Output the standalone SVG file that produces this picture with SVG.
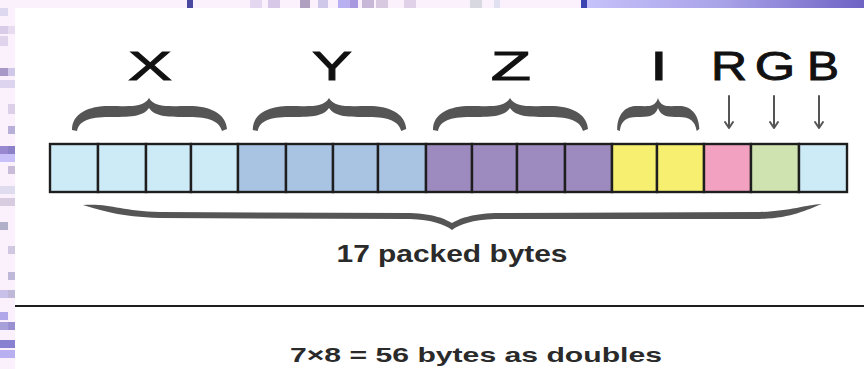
<svg xmlns="http://www.w3.org/2000/svg" width="864" height="369" viewBox="0 0 864 369">
<style>
.lbl{font-family:"Liberation Sans",Arial,sans-serif;font-size:40px;fill:#111;stroke:#111;stroke-width:0.9;text-anchor:middle}
.cap{font-family:"Liberation Sans",Arial,sans-serif;font-weight:bold;fill:#2a2a2a;text-anchor:middle}
.cell{stroke:#1e1e1e;stroke-width:2.4}
.brace{fill:#555;}
.arr{fill:none;stroke:#555;stroke-width:2;stroke-linecap:round;stroke-linejoin:round}
</style>
<defs>
<linearGradient id="topg" x1="0" y1="0" x2="1" y2="0">
<stop offset="0" stop-color="#c6c2fa"/>
<stop offset="0.5" stop-color="#a8a2e8"/>
<stop offset="1" stop-color="#6e62c4"/>
</linearGradient>
<path id="brace" d="M-77,130 C-77,113 -60,106 -40,106 C-20,106 -6,108 0,98 C6,108 20,106 40,106 C60,106 77,113 78,129 L73,131 C70,121 60,117 40,117 C20,117 6,117 0,108 C-6,117 -20,117 -40,117 C-60,117 -70,121 -72,131 Z"/>
</defs>
<g id="background">
<rect x="0" y="0" width="864" height="369" fill="#fbf1fc"/>
<rect x="584" y="0" width="280" height="8" fill="url(#topg)"/>
<rect x="581" y="0" width="6" height="8" fill="#3a44b0"/>
<rect x="187" y="0" width="6" height="8" fill="#4a48a0"/>
<rect x="250" y="0" width="12" height="8" fill="#e4d8f0"/>
<rect x="268" y="0" width="12" height="8" fill="#d8c8e8"/>
<rect x="300" y="0" width="10" height="8" fill="#b0a0c0"/>
<rect x="318" y="0" width="10" height="8" fill="#d0c8e8"/>
<rect x="338" y="0" width="12" height="8" fill="#b8b0f0"/>
<rect x="350" y="0" width="8" height="8" fill="#a898e0"/>
<rect x="362" y="0" width="12" height="8" fill="#c8b8d8"/>
<rect x="376" y="0" width="12" height="8" fill="#d8c8e0"/>
<rect x="404" y="0" width="12" height="8" fill="#e0d0e8"/>
<rect x="470" y="0" width="12" height="8" fill="#d8d8e0"/>
<rect x="494" y="0" width="6" height="8" fill="#e0e0f0"/>
<rect x="0" y="8" width="8" height="8" fill="#ddd8f0"/>
<rect x="0" y="26" width="8" height="8" fill="#d8cce8"/>
<rect x="8" y="26" width="7" height="8" fill="#e8dcf0"/>
<rect x="0" y="36" width="8" height="10" fill="#e0d4ec"/>
<rect x="0" y="68" width="8" height="8" fill="#a898c8"/>
<rect x="8" y="68" width="7" height="8" fill="#d0c8e8"/>
<rect x="0" y="80" width="15" height="8" fill="#ddd4f0"/>
<rect x="8" y="104" width="7" height="10" fill="#dcd0e8"/>
<rect x="8" y="126" width="7" height="8" fill="#b8b0d8"/>
<rect x="0" y="146" width="8" height="8" fill="#9888d0"/>
<rect x="8" y="146" width="7" height="8" fill="#8c80c8"/>
<rect x="0" y="154" width="15" height="8" fill="#c8c0f8"/>
<rect x="8" y="166" width="7" height="8" fill="#c8bcd8"/>
<rect x="0" y="186" width="15" height="8" fill="#e0dcf0"/>
<rect x="0" y="198" width="15" height="8" fill="#d8cce0"/>
<rect x="0" y="222" width="8" height="8" fill="#b0b0c8"/>
<rect x="8" y="246" width="7" height="8" fill="#d0c8e0"/>
<rect x="8" y="272" width="7" height="8" fill="#c0b8d8"/>
<rect x="0" y="290" width="8" height="8" fill="#c8c0e8"/>
<rect x="8" y="290" width="7" height="8" fill="#c0b8d8"/>
<rect x="0" y="312" width="8" height="8" fill="#b0a8e8"/>
<rect x="0" y="322" width="8" height="8" fill="#a8a0d8"/>
<rect x="8" y="322" width="7" height="8" fill="#9890d0"/>
<rect x="0" y="340" width="15" height="8" fill="#8880d0"/>
<rect x="0" y="350" width="15" height="8" fill="#b8b0f0"/>
<rect x="15" y="8" width="849" height="361" fill="#ffffff"/>
</g>
<g id="labels">
<text class="lbl" transform="translate(150,80) scale(1.65,1)">X</text>
<text class="lbl" transform="translate(332,80) scale(1.5,1)">Y</text>
<text class="lbl" transform="translate(511,80) scale(1.65,1)">Z</text>
<text class="lbl" transform="translate(659,80) scale(1.6,1)">I</text>
<text class="lbl" transform="translate(729,80) scale(1.25,1)">R</text>
<text class="lbl" transform="translate(775,80) scale(1.3,1)">G</text>
<text class="lbl" transform="translate(823,80) scale(1.2,1)">B</text>
</g>
<g id="braces">
<use href="#brace" class="brace" transform="translate(149,0)"/>
<use href="#brace" class="brace" transform="translate(329,0) scale(0.99,1)"/>
<use href="#brace" class="brace" transform="translate(510,0)"/>
<use href="#brace" class="brace" transform="translate(658,0) scale(0.53,1)"/>
</g>
<g id="connectors">
<path class="arr" d="M729,96 V128 M725,122 L729,128 L733,122"/>
<path class="arr" d="M774,96 V128 M770,122 L774,128 L778,122"/>
<path class="arr" d="M819,96 V128 M815,122 L819,128 L823,122"/>
</g>
<g id="bytes">
<rect class="cell" x="50" y="144" width="48" height="48" fill="#cdeaf7"/>
<rect class="cell" x="98" y="144" width="48" height="48" fill="#cdeaf7"/>
<rect class="cell" x="146" y="144" width="45" height="48" fill="#cdeaf7"/>
<rect class="cell" x="191" y="144" width="47" height="48" fill="#cdeaf7"/>
<rect class="cell" x="238" y="144" width="48" height="48" fill="#a9c3e3"/>
<rect class="cell" x="286" y="144" width="47" height="48" fill="#a9c3e3"/>
<rect class="cell" x="333" y="144" width="45" height="48" fill="#a9c3e3"/>
<rect class="cell" x="378" y="144" width="48" height="48" fill="#a9c3e3"/>
<rect class="cell" x="426" y="144" width="46" height="48" fill="#9d8bbf"/>
<rect class="cell" x="472" y="144" width="45" height="48" fill="#9d8bbf"/>
<rect class="cell" x="517" y="144" width="48" height="48" fill="#9d8bbf"/>
<rect class="cell" x="565" y="144" width="47" height="48" fill="#9d8bbf"/>
<rect class="cell" x="612" y="144" width="45" height="48" fill="#f6ef70"/>
<rect class="cell" x="657" y="144" width="47" height="48" fill="#f6ef70"/>
<rect class="cell" x="704" y="144" width="47" height="48" fill="#f2a1c0"/>
<rect class="cell" x="751" y="144" width="48" height="48" fill="#cfe3b1"/>
<rect class="cell" x="799" y="144" width="48" height="48" fill="#cdeaf7"/>
</g>
<g id="total">
<path class="brace" d="M83,205 C110,203 120,211 160,212 L410,213 C435,214 445,219 452,223 C459,219 470,214 495,213 L760,212 C790,211 805,205 822,204 C806,210 792,218 760,219 L495,219 C472,220 460,224 452,230 C444,224 432,220 410,219 L160,218 C120,217 100,210 83,205 Z"/>
<text class="cap" x="452" y="262" font-size="24" textLength="231" lengthAdjust="spacingAndGlyphs">17 packed bytes</text>
</g>
<g id="separator">
<line x1="15" y1="306" x2="864" y2="306" stroke="#1e1e1e" stroke-width="2.2"/>
</g>
<g id="doubles">
<text class="cap" x="476" y="362" font-size="21" textLength="372" lengthAdjust="spacingAndGlyphs">7×8 = 56 bytes as doubles</text>
</g>
</svg>
